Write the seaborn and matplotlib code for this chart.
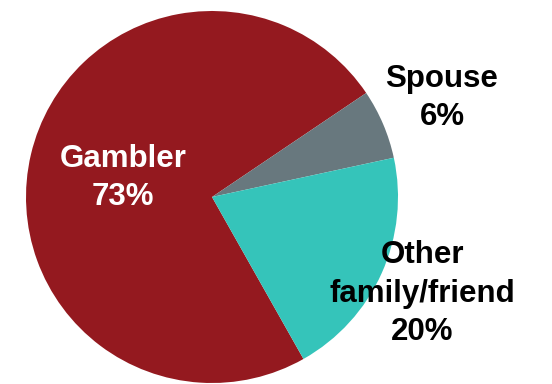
import matplotlib
matplotlib.use("Agg")
import matplotlib.pyplot as plt
import seaborn as sns

# Who first raised concern about the gambling
categories = ["Gambler", "Spouse", "Other family/friend"]
shares = [73, 6, 20]
slice_labels = ["Gambler\n73%", "Spouse\n6%", "Other\nfamily/friend\n20%"]
colors = ["#94191F", "#68787E", "#35C4BA"]

sns.set_theme(style="white")
plt.rcParams["font.family"] = ["Liberation Sans", "DejaVu Sans"]

W, H, DPI = 552, 384, 100
fig = plt.figure(figsize=(W / DPI, H / DPI), dpi=DPI)

# square axes holding the pie (pixel geometry)
cx, cy, r = 212, 197, 186
ax = fig.add_axes([(cx - r) / W, (H - cy - r) / H, 2 * r / W, 2 * r / H])

start = 34 + 360 * shares[0] / sum(shares)
ax.pie(shares, colors=colors, startangle=start, counterclock=False,
       wedgeprops=dict(linewidth=0), radius=1)
ax.set_xlim(-1, 1)
ax.set_ylim(-1, 1)
ax.set_aspect("equal")
ax.axis("off")


def px(x, y):
    return (x - cx) / r, (cy - y) / r


# (centre x, baseline of last line) in pixels
label_pos = [(123, 205), (442, 125), (422, 340)]
label_colors = ["white", "black", "black"]
for text, (x, y), c in zip(slice_labels, label_pos, label_colors):
    dx, dy = px(x, y)
    ax.text(dx, dy, text, ha="center", va="baseline", color=c,
            fontsize=22.5, fontweight="bold", linespacing=1.36,
            multialignment="center", clip_on=False)

fig.savefig("out.png", dpi=DPI, facecolor="white")
